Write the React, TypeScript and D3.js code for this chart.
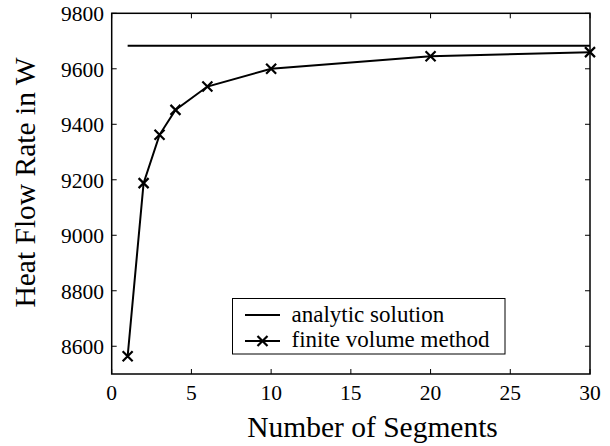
import React from "react";
import * as d3 from "d3";

const segments = [1, 2, 3, 4, 6, 10, 20, 30];
const fvmValues = [8564, 9188, 9362, 9452, 9536, 9600, 9645, 9660];
const analyticX = [1, 30];
const analyticValue = 9683;
const xTicks = [0, 5, 10, 15, 20, 25, 30];
const yTicks = [8600, 8800, 9000, 9200, 9400, 9600, 9800];
const legendLabels = ["analytic solution", "finite volume method"];

const W = 610, H = 446;
const M = { left: 111.7, right: 590, top: 13.3, bottom: 374 };
const FONT = "Liberation Serif, Times New Roman, serif";

export default function App() {
  const x = d3.scaleLinear().domain([0, 30]).range([M.left, M.right]);
  const y = d3.scaleLinear().domain([8500, 9800]).range([M.bottom, M.top]);
  const line = d3.line<number>().x((_, i) => x(segments[i])).y((d) => y(d));
  const fvmPath = line(fvmValues) || "";
  const tl = 5;
  const mk = 5;
  const tf = { fontFamily: FONT, fontSize: 21.5 };
  const cross = (cx: number, cy: number, k: string) => (
    <path key={k} d={`M${cx - mk},${cy - mk}L${cx + mk},${cy + mk}M${cx - mk},${cy + mk}L${cx + mk},${cy - mk}`} stroke="#000" strokeWidth={2.2} fill="none" />
  );
  const lg = { x0: 232.5, y0: 298.5, x1: 505, y1: 354 };
  return (
    <svg width={W} height={H} style={{ position: "absolute", left: 0, top: 0, background: "#fff" }}>
      <rect x={0} y={0} width={W} height={H} fill="#fff" />
      {xTicks.map((t) => (
        <g key={"xt" + t}>
          <line x1={x(t)} x2={x(t)} y1={M.bottom} y2={M.bottom - tl} stroke="#000" strokeWidth={1} />
          <line x1={x(t)} x2={x(t)} y1={M.top} y2={M.top + tl} stroke="#000" strokeWidth={1} />
          <text x={x(t)} y={399.5} textAnchor="middle" style={tf}>{t}</text>
        </g>
      ))}
      {yTicks.map((t) => (
        <g key={"yt" + t}>
          <line x1={M.left} x2={M.left + tl} y1={y(t)} y2={y(t)} stroke="#000" strokeWidth={1} />
          <line x1={M.right} x2={M.right - tl} y1={y(t)} y2={y(t)} stroke="#000" strokeWidth={1} />
          <text x={104} y={y(t) + 8} textAnchor="end" style={tf}>{t}</text>
        </g>
      ))}
      <rect x={M.left} y={M.top} width={M.right - M.left} height={M.bottom - M.top} fill="none" stroke="#000" strokeWidth={1.5} />
      <line x1={x(analyticX[0])} x2={x(analyticX[1])} y1={y(analyticValue)} y2={y(analyticValue)} stroke="#000" strokeWidth={2} />
      <path d={fvmPath} stroke="#000" strokeWidth={2} fill="none" />
      {fvmValues.map((v, i) => cross(x(segments[i]), y(v), "m" + i))}
      <rect x={lg.x0} y={lg.y0} width={lg.x1 - lg.x0} height={lg.y1 - lg.y0} fill="#fff" stroke="#000" strokeWidth={1} />
      <line x1={245} x2={280} y1={315} y2={315} stroke="#000" strokeWidth={2} />
      <text x={291.5} y={321.5} style={{ fontFamily: FONT, fontSize: 23 }}>{legendLabels[0]}</text>
      <line x1={245} x2={280} y1={341} y2={341} stroke="#000" strokeWidth={2} />
      {cross(262.5, 341, "lgm")}
      <text x={291.5} y={347} style={{ fontFamily: FONT, fontSize: 23 }}>{legendLabels[1]}</text>
      <text x={372.5} y={436.5} textAnchor="middle" style={{ fontFamily: FONT, fontSize: 29.5 }}>Number of Segments</text>
      <text transform={`translate(35,182.5) rotate(-90)`} textAnchor="middle" style={{ fontFamily: FONT, fontSize: 29.5 }}>Heat Flow Rate in W</text>
    </svg>
  );
}
